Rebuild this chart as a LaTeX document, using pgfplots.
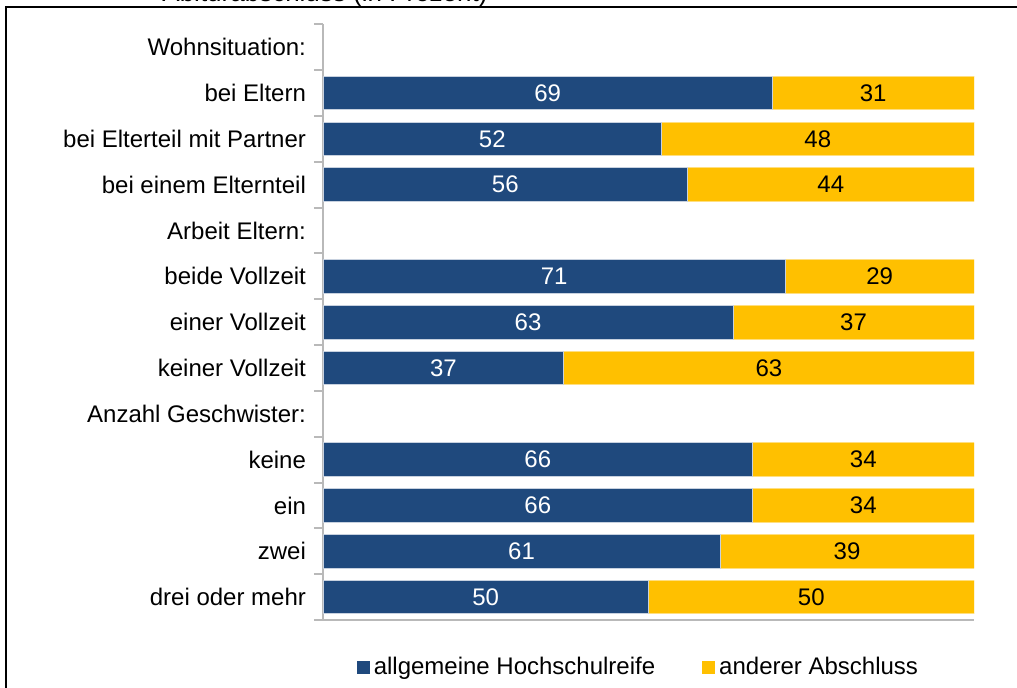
\documentclass[border=0pt]{standalone}
\usepackage{pgfplots}
\pgfplotsset{compat=1.18}
\usepackage{pgfplotstable}
\usepackage{fontspec}
\setmainfont{Liberation Sans}
\definecolor{barblue}{RGB}{31,73,125}
\definecolor{baryellow}{RGB}{255,192,0}
\definecolor{axgray}{RGB}{185,185,185}

\pgfplotstableread{
y a b
11 69 31
10 52 48
9 56 44
7 71 29
6 63 37
5 37 63
3 66 34
2 66 34
1 61 39
0 50 50
}\datatab

\begin{document}
\begin{tikzpicture}[font=\fontsize{12}{14.4}\selectfont]
\path[use as bounding box] (0,0) rectangle (508.5pt,343.5pt);
\clip (0,0) rectangle (508.5pt,343.5pt);
\node[anchor=base, font=\fontsize{13}{15}\selectfont] at (162.5pt,342.6pt) {Abiturabschluss (in Prozent)};
\draw[line width=1pt] (2.75pt,-1pt) -- (2.75pt,339.75pt) -- (510pt,339.75pt);
\begin{axis}[
  at={(161.5pt,33.5pt)}, anchor=south west,
  scale only axis, width=325.5pt, height=297.85pt,
  xmin=0, xmax=100, ymin=-0.5, ymax=12.5,
  xbar stacked, bar width=16.8pt,
  axis lines*=left,
  axis line style={-, draw=axgray, line width=1pt},
  xtick=\empty,
  ytick={0,...,12},
  yticklabels={drei oder mehr, zwei, ein, keine, Anzahl Geschwister:, keiner Vollzeit, einer Vollzeit, beide Vollzeit, Arbeit Eltern:, bei einem Elternteil, bei Elterteil mit Partner, bei Eltern, Wohnsituation:},
  major tick length=0pt,
  minor ytick={-0.5,0.5,...,12.5},
  minor tick length=4.5pt,
  tick align=outside,
  ytick pos=left,
  minor tick style={draw=axgray, line width=1pt},
  yticklabel style={xshift=-5pt},
  legend columns=2,
  legend style={at={(0.486,-0.079)}, anchor=center, draw=none, fill=none,
    /tikz/every even column/.append style={column sep=21.5pt}},
  legend image code/.code={\fill[#1, draw=none] (-1.5pt,-3.25pt) rectangle (5pt,3.25pt);},
]
\addplot[fill=barblue, draw=white!75!barblue, line width=0.4pt,
  nodes near coords, point meta=explicit symbolic,
  every node near coord/.append style={anchor=center, text=white}]
  table[x=a, y=y, meta=a]{\datatab};
\addplot[fill=baryellow, draw=white!50!baryellow, line width=0.4pt,
  nodes near coords, point meta=explicit symbolic,
  every node near coord/.append style={anchor=center, text=black}]
  table[x=b, y=y, meta=b]{\datatab};
\legend{allgemeine Hochschulreife, anderer Abschluss}
\end{axis}
\end{tikzpicture}
\end{document}
